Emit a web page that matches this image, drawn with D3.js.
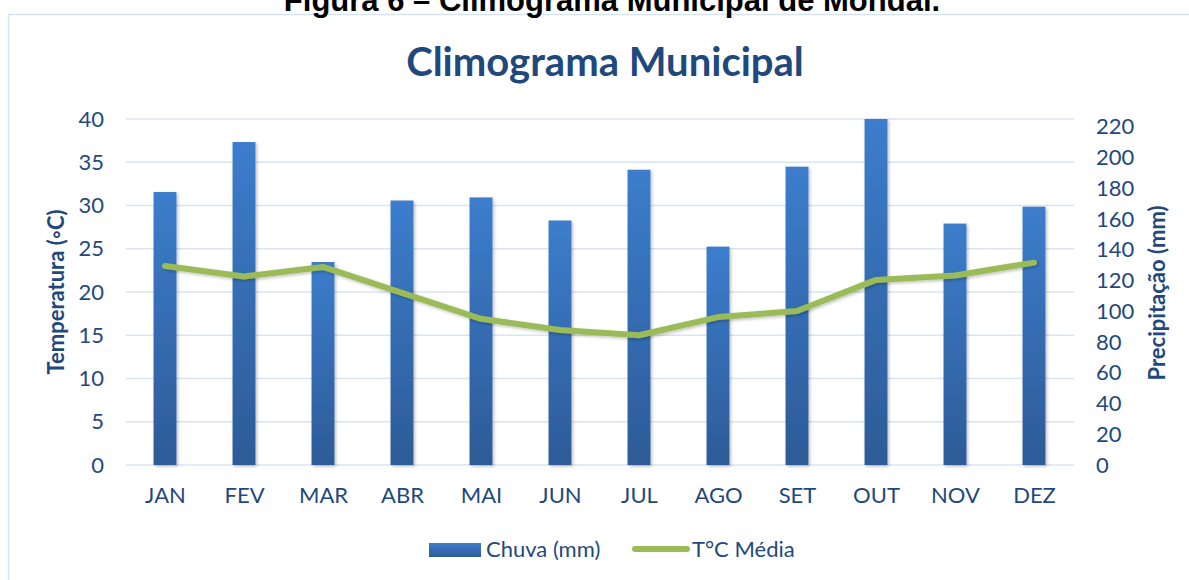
<!DOCTYPE html>
<html lang="pt">
<head>
<meta charset="UTF-8">
<script src="https://d3js.org/d3.v7.min.js"></script>
<style>
  html, body { margin: 0; padding: 0; background: #fff; }
  svg { display: block; }
</style>
</head>
<body>
<svg id="chart" width="1189" height="580"></svg>
<script>
// dados
var meses = ["JAN", "FEV", "MAR", "ABR", "MAI", "JUN", "JUL", "AGO", "SET", "OUT", "NOV", "DEZ"];
var chuva = [177.5, 210, 132, 172, 174, 159, 192, 142, 194, 225, 157, 168];
var temp = [23.0, 21.8, 22.9, 19.9, 16.9, 15.6, 15.0, 17.1, 17.8, 21.4, 21.9, 23.4];
var ticksTemp = [0, 5, 10, 15, 20, 25, 30, 35, 40];
var ticksChuva = [0, 20, 40, 60, 80, 100, 120, 140, 160, 180, 200, 220];

var azul = "#1F497D",
    grade = "#d9e5f3",
    verde = "#9bbb59",
    fonte = "Lato, 'Open Sans', sans-serif";

var svg = d3.select("#chart");

var defs = svg.append("defs");
var grad = defs.append("linearGradient").attr("id", "gbar")
    .attr("x1", 0).attr("y1", 0).attr("x2", 0).attr("y2", 1);
grad.append("stop").attr("offset", "0%").attr("stop-color", "#3c7dcc");
grad.append("stop").attr("offset", "100%").attr("stop-color", "#2d5b97");

var sombra = defs.append("filter").attr("id", "sombra")
    .attr("x", "-30%").attr("y", "-10%").attr("width", "160%").attr("height", "130%");
sombra.append("feDropShadow").attr("dx", 1.5).attr("dy", 1.5).attr("stdDeviation", 1.5)
    .attr("flood-color", "#000").attr("flood-opacity", 0.25);

// moldura
svg.append("rect").attr("x", 8.5).attr("y", 14.5).attr("width", 1200).attr("height", 600)
    .attr("fill", "none").attr("stroke", "#d5e3f2").attr("stroke-width", 1.5);

// legenda da figura (cortada no topo, como no original)
svg.append("text").attr("x", 612).attr("y", 11).attr("text-anchor", "middle")
    .style("font-family", "'Liberation Sans', Arial, sans-serif").style("font-weight", "bold")
    .style("font-size", "31px").attr("fill", "#000")
    .text("Figura 6 – Climograma Municipal de Mondaí.");

var x = d3.scalePoint().domain(meses).range([125.5, 1073.5]).padding(0.5);
var yT = d3.scaleLinear().domain([0, 40]).range([465, 119]);
var yC = d3.scaleLinear().domain([0, 225]).range([465, 119]);
var larg = x.step() * 0.29;

// linhas de grade
svg.append("g").selectAll("line").data(ticksTemp).join("line")
    .attr("x1", 126).attr("x2", 1074)
    .attr("y1", d => yT(d)).attr("y2", d => yT(d))
    .attr("stroke", grade).attr("stroke-width", 1.5);

// eixos
var eixoE = svg.append("g").attr("transform", "translate(104,0)")
    .call(d3.axisLeft(yT).tickValues(ticksTemp).tickSize(0).tickPadding(0));
var eixoD = svg.append("g").attr("transform", "translate(1096,0)")
    .call(d3.axisRight(yC).tickValues(ticksChuva).tickSize(0).tickPadding(0));
var eixoX = svg.append("g").attr("transform", "translate(0,484)")
    .call(d3.axisBottom(x).tickSize(0).tickPadding(0));
[eixoE, eixoD, eixoX].forEach(function(g) {
  g.select(".domain").remove();
  g.selectAll("text").attr("fill", azul).style("font-family", fonte).style("font-size", "22px");
});
eixoX.selectAll("text").attr("dy", "0.85em");

// barras
svg.append("g").attr("filter", "url(#sombra)").selectAll("rect").data(chuva).join("rect")
    .attr("x", (d, i) => x(meses[i]) - larg / 2)
    .attr("width", larg)
    .attr("y", d => yC(d))
    .attr("height", d => yC(0) - yC(d))
    .attr("fill", "url(#gbar)");

// linha de temperatura
var linha = d3.line().x((d, i) => x(meses[i])).y(d => yT(d));
svg.append("path").datum(temp).attr("d", linha)
    .attr("fill", "none").attr("stroke", verde).attr("stroke-width", 6)
    .attr("stroke-linecap", "round").attr("stroke-linejoin", "round")
    .attr("filter", "url(#sombra)");

// títulos
svg.append("text").attr("x", 605).attr("y", 76).attr("text-anchor", "middle")
    .style("font-family", fonte).style("font-weight", "bold").style("font-size", "40px")
    .attr("fill", azul).text("Climograma Municipal");

svg.append("text").attr("transform", "translate(64,292) rotate(-90)").attr("text-anchor", "middle")
    .style("font-family", fonte).style("font-weight", "bold").style("font-size", "22px")
    .attr("fill", azul).text("Temperatura (◦C)");

svg.append("text").attr("transform", "translate(1165,293) rotate(-90)").attr("text-anchor", "middle")
    .style("font-family", fonte).style("font-weight", "bold").style("font-size", "22px")
    .attr("fill", azul).text("Precipitação (mm)");

// legenda
var leg = svg.append("g");
leg.append("rect").attr("x", 429).attr("y", 543).attr("width", 52).attr("height", 14).attr("fill", "url(#gbar)");
leg.append("text").attr("x", 486).attr("y", 557).style("font-family", fonte).style("font-size", "22px")
    .attr("fill", azul).text("Chuva (mm)");
leg.append("line").attr("x1", 635).attr("x2", 687).attr("y1", 549).attr("y2", 549)
    .attr("stroke", verde).attr("stroke-width", 6).attr("stroke-linecap", "round");
leg.append("text").attr("x", 692).attr("y", 557).style("font-family", fonte).style("font-size", "22px")
    .attr("fill", azul).text("T°C Média");
</script>
</body>
</html>
